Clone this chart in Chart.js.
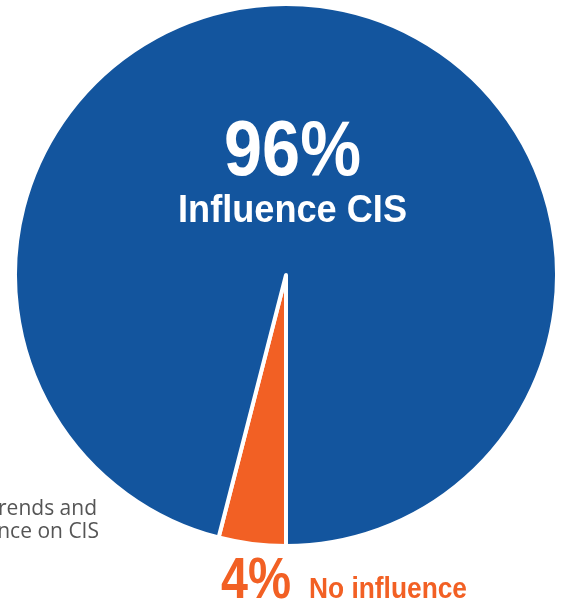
<!DOCTYPE html>
<html>
<head>
<meta charset="utf-8">
<script src="https://cdn.jsdelivr.net/npm/chart.js@4/dist/chart.umd.min.js"></script>
<style>
  html, body { margin: 0; padding: 0; background: #fff; }
  #wrap { width: 564px; height: 606px; position: relative; }
</style>
</head>
<body>
<div id="wrap"><canvas id="myChart"></canvas></div>
<script>
var categories = ['No influence', 'Influence CIS'];
var shares = [4, 96];
var colors = ['#F26024', '#13559E'];
var sideNote = ['rends and', 'nce on CIS'];

var heavy = '"Liberation Sans", Arial, sans-serif';

// draw text squeezed horizontally so it spans the given width (condensed look)
function fitText(c, text, left, baseline, width, size) {
    c.font = 'bold ' + size + 'px ' + heavy;
    var w = c.measureText(text).width;
    var k = width / w;
    c.save();
    c.translate(left, baseline);
    c.scale(k, 1);
    c.textAlign = 'left';
    c.fillText(text, 0, 0);
    c.restore();
}

var labelPlugin = {
    id: 'pieLabels',
    afterDraw: function (chart) {
        var c = chart.ctx;
        var arc = chart.getDatasetMeta(0).data[0];
        var cx = arc.x, cy = arc.y;
        c.save();
        c.textBaseline = 'alphabetic';

        // big value inside the blue slice
        c.fillStyle = '#fff';
        fitText(c, shares[1] + '%', cx - 62, cy - 100, 137, 77);
        fitText(c, categories[1], cx - 108, cy - 53, 229, 39);

        // orange value under the pie
        c.fillStyle = colors[0];
        fitText(c, shares[0] + '%', cx - 65, cy + 323, 70, 57);
        fitText(c, categories[0], cx + 23, cy + 323, 158, 29);

        // cut-off note on the left
        c.fillStyle = '#555';
        c.textAlign = 'right';
        c.font = '500 21px "Open Sans", "Noto Sans", sans-serif';
        c.fillText(sideNote[0], 97, 515);
        c.fillText(sideNote[1], 99, 538);

        c.restore();
    }
};

var ctx = document.getElementById('myChart');
var myChart = new Chart(ctx, {
    type: 'pie',
    data: {
        labels: categories,
        datasets: [
            {
                data: shares,
                backgroundColor: colors,
                borderColor: '#fff',
                borderWidth: 4,
                borderJoinStyle: 'round'
            }
        ]
    },
    options: {
        responsive: true,
        maintainAspectRatio: false,
        animation: false,
        rotation: 180,
        layout: {
            padding: { left: 13, right: 5, top: 1, bottom: 57 }
        },
        plugins: {
            legend: { display: false },
            tooltip: { enabled: false }
        }
    },
    plugins: [labelPlugin]
});
</script>
</body>
</html>
